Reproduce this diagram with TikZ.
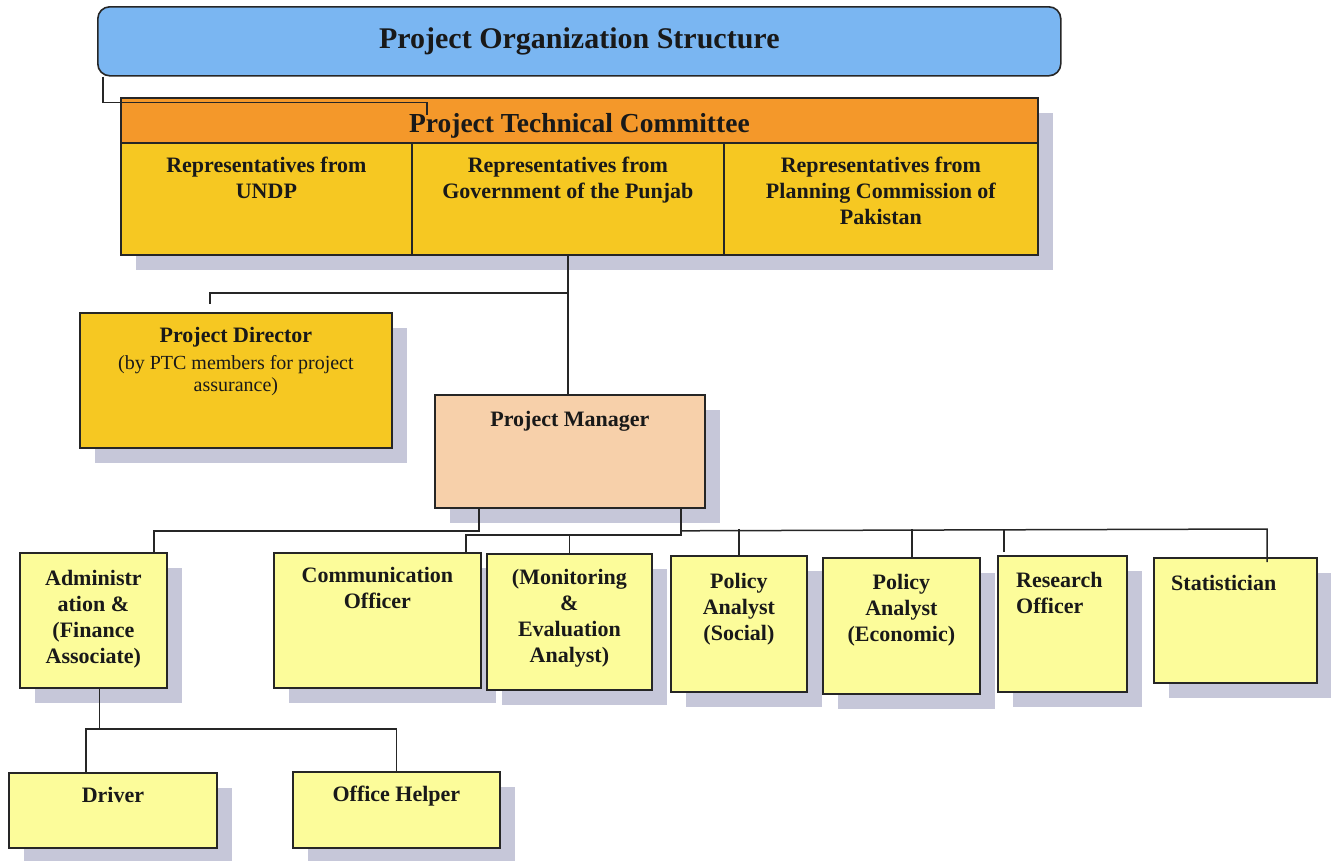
\documentclass[tikz,border=0pt]{standalone}
\usepackage{fontspec}
\setmainfont{Liberation Serif}
\usetikzlibrary{positioning,shadows}
\definecolor{titleblue}{RGB}{122,182,242}
\definecolor{ptcorange}{RGB}{244,152,42}
\definecolor{ptcgold}{RGB}{246,200,34}
\definecolor{pmpeach}{RGB}{247,208,170}
\definecolor{lowyellow}{RGB}{252,252,154}
\definecolor{shadowgray}{RGB}{198,199,217}
\tikzset{
  orgbox/.style={draw=black!85, line width=1.8pt, rectangle, anchor=north west, inner sep=0pt,
    general shadow={fill=shadowgray, shadow xshift=15pt, shadow yshift=-15pt}},
  goldbox/.style={orgbox, fill=ptcgold},
  yellowbox/.style={orgbox, fill=lowyellow},
  boxtext/.style={font=\fontsize{22}{26}\selectfont\bfseries, align=center, inner sep=0pt, text=black!90},
  link/.style={line width=1.5pt, draw=black!85},
}
\begin{document}
\begin{tikzpicture}[x=1pt, y=-1pt]
  \useasboundingbox (0,0) rectangle (1331,860);
  % title
  \node[draw=black!85, line width=1.6pt, fill=titleblue, rounded corners=12pt, anchor=north west,
    minimum width=963pt, minimum height=69pt, text=black!90,
    font=\fontsize{30}{35}\selectfont\bfseries] (title) at (97,6) {Project Organization Structure};
  % technical committee
  \node[orgbox, fill=ptcorange, minimum width=917pt, minimum height=45pt] (ptc) at (120,97) {};
  \node[text=black!90, font=\fontsize{27.5}{32}\selectfont\bfseries] (ptctext) at ([yshift=-5pt]ptc.center) {Project Technical Committee};
  \node[goldbox, minimum width=291pt, minimum height=112pt] (undp) at (120,142) {};
  \node[goldbox, minimum width=312pt, minimum height=112pt] (gop) at (411,142) {};
  \node[goldbox, minimum width=314pt, minimum height=112pt] (pcp) at (723,142) {};
  \node[boxtext, below=15pt of undp.north] (undptext) {Representatives from\\UNDP};
  \node[boxtext, below=15pt of gop.north] (goptext) {Representatives from\\Government of the Punjab};
  \node[boxtext, below=15pt of pcp.north] (pcptext) {Representatives from\\Planning Commission of\\Pakistan};
  % director and manager
  \node[goldbox, minimum width=312pt, minimum height=135pt] (pd) at (79,312) {};
  \node[boxtext, below=15pt of pd.north] (pdtext) {Project Director};
  \node[font=\fontsize{20}{22}\selectfont, align=center, inner sep=0pt, text=black!90, below=8pt of pdtext] (pdnote) {(by PTC members for project\\assurance)};
  \node[orgbox, fill=pmpeach, minimum width=270pt, minimum height=113pt] (pm) at (434,394) {};
  \node[boxtext, below=17pt of pm.north] (pmtext) {Project Manager};
  % project staff
  \node[yellowbox, minimum width=147pt, minimum height=135pt] (admin) at (19,552) {};
  \node[yellowbox, minimum width=207pt, minimum height=135pt] (comm) at (273,552) {};
  \node[yellowbox, minimum width=165pt, minimum height=136pt] (mne) at (486,553) {};
  \node[yellowbox, minimum width=136pt, minimum height=136pt] (social) at (670,555) {};
  \node[yellowbox, minimum width=157pt, minimum height=136pt] (econ) at (822,557) {};
  \node[yellowbox, minimum width=129pt, minimum height=136pt] (research) at (997,555) {};
  \node[yellowbox, minimum width=163pt, minimum height=125pt] (stat) at (1153,557) {};
  \node[boxtext, below=18pt of admin.north] (admintext) {Administr\\ation \&\\(Finance\\Associate)};
  \node[boxtext, below=15pt of comm.north] (commtext) {Communication\\Officer};
  \node[boxtext, below=16pt of mne.north] (mnetext) {(Monitoring\\\&\\Evaluation\\Analyst)};
  \node[boxtext, below=18pt of social.north] (socialtext) {Policy\\Analyst\\(Social)};
  \node[boxtext, below=17pt of econ.north] (econtext) {Policy\\Analyst\\(Economic)};
  \node[boxtext, align=left, anchor=north west] (researchtext) at ([xshift=19pt,yshift=-17pt]research.north west) {Research\\Officer};
  \node[boxtext, anchor=north west] (stattext) at ([xshift=18pt,yshift=-18pt]stat.north west) {Statistician};
  % support staff
  \node[yellowbox, minimum width=208pt, minimum height=75pt] (driver) at (8,772) {};
  \node[yellowbox, minimum width=207pt, minimum height=76pt] (helper) at (292,771) {};
  \node[boxtext, below=15pt of driver.north] (drivertext) {Driver};
  \node[boxtext, below=15pt of helper.north] (helpertext) {Office Helper};
  % connectors
  \coordinate (ptcin) at (427,115);
  \draw[link] ([xshift=6pt]title.south west) -- ++(0,26) -| (ptcin);
  \draw[link] (gop.south) -- (gop.south |- pm.north);
  \draw[link] (gop.south |- 0,293) -| ([xshift=-26pt,yshift=8pt]pd.north);
  \draw[link] ([xshift=45pt]pm.south west) -- ++(0,22) -| ([xshift=-14pt]admin.north east);
  \coordinate (commtop) at ([xshift=-16pt]comm.north east);
  \draw[link] ([xshift=-25pt]pm.south east) |- (commtop |- 0,535) -- (commtop);
  \draw[link] (mne.north) -- (mne.north |- 0,535);
  \coordinate (stattop) at ([xshift=114pt,yshift=-5pt]stat.north west);
  \draw[link] ([xshift=-25pt]pm.south east) -- ++(0,22) -- (stattop |- 0,529) -- (stattop);
  \draw[link] (social.north) -- (social.north |- 0,529);
  \coordinate (econtop) at ([xshift=90pt]econ.north west);
  \draw[link] (econtop) -- (econtop |- 0,529);
  \coordinate (researchtop) at ([xshift=7pt,yshift=3pt]research.north west);
  \draw[link] (researchtop) -- (researchtop |- 0,529);
  \draw[link] ([xshift=6pt]admin.south) -- ++(0,41);
  \coordinate (drivertop) at ([xshift=78pt]driver.north west);
  \draw[link] (drivertop) |- (helper.north |- 0,729) -- (helper.north);
\end{tikzpicture}
\end{document}
